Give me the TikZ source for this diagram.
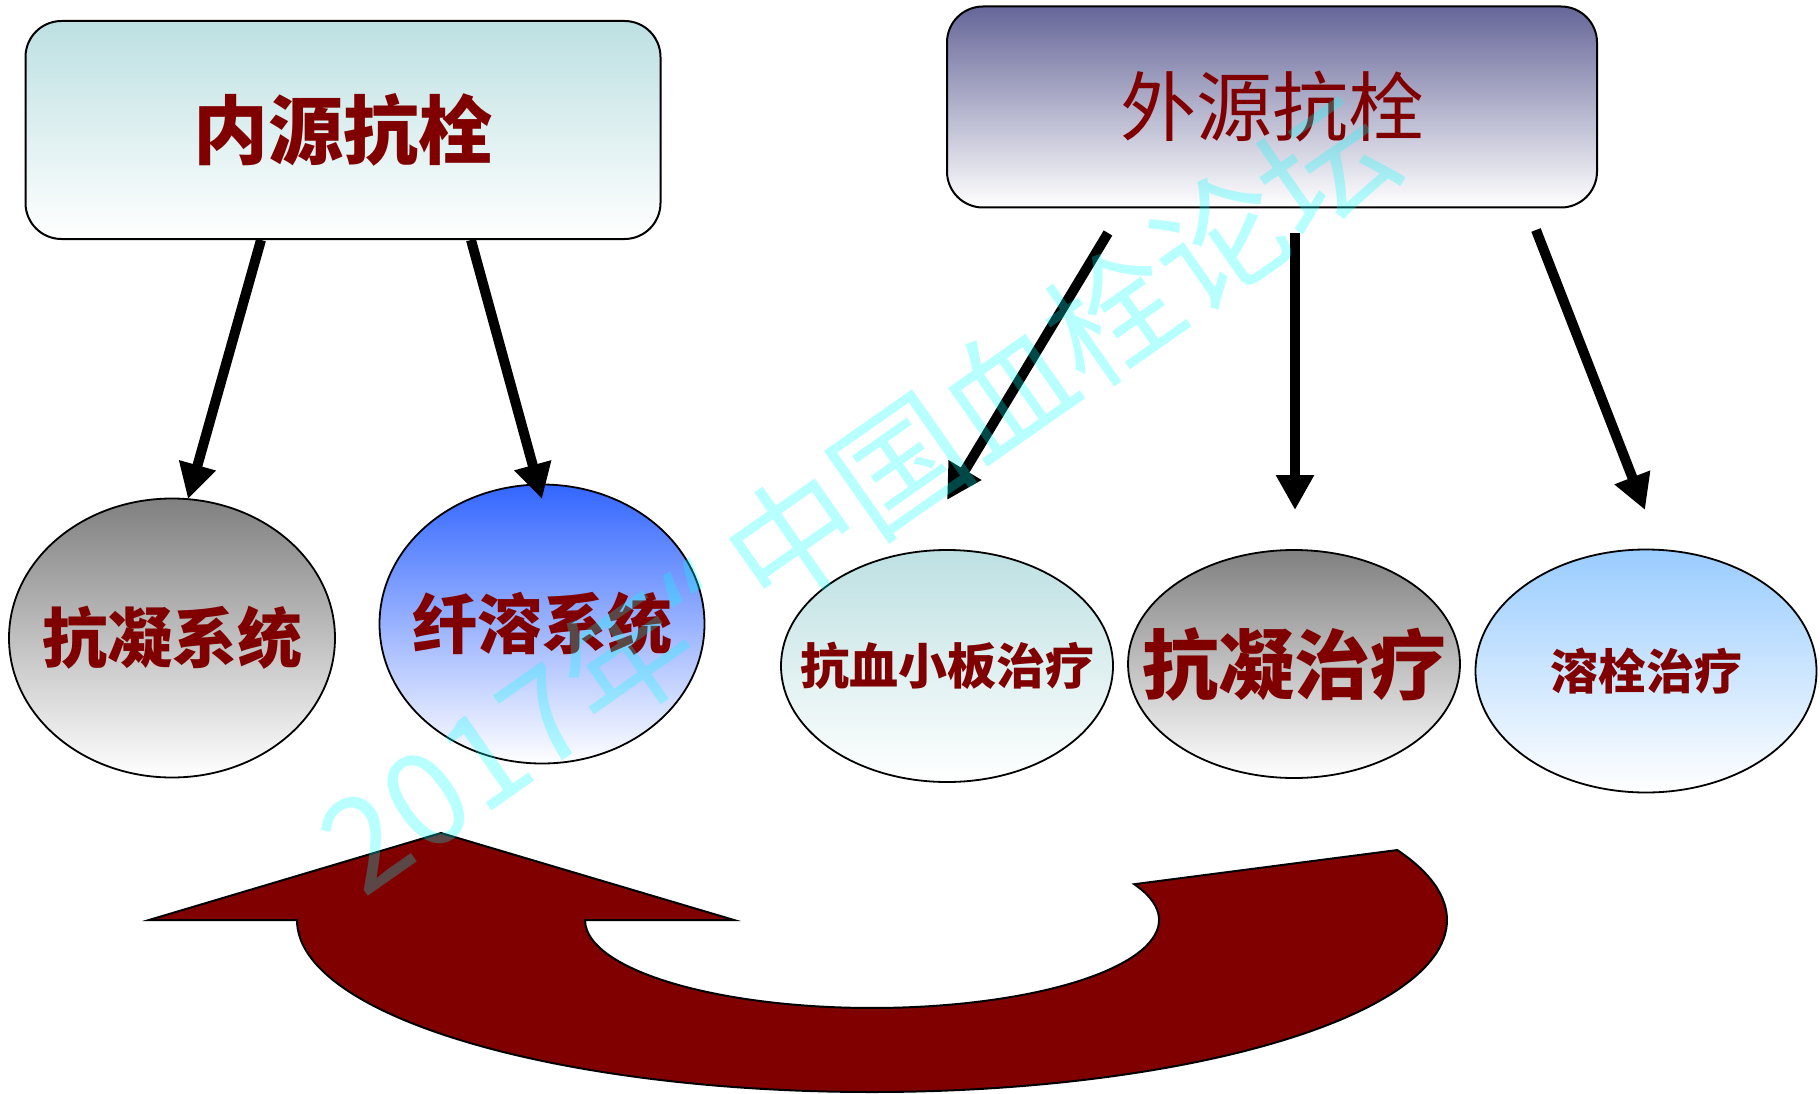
\documentclass[tikz,border=0pt]{standalone}
\usepackage{fontspec}
\newfontfamily\cjk{Noto Sans CJK SC}
\newfontfamily\latn{Noto Sans}
\usetikzlibrary{shapes.geometric,arrows.meta}
\definecolor{dred}{HTML}{800000}
\definecolor{tealtop}{HTML}{BDE0E2}
\definecolor{slatetop}{HTML}{666699}
\definecolor{graytop}{HTML}{808080}
\definecolor{bluetop}{HTML}{3366FF}
\definecolor{skytop}{HTML}{99CCFF}
\definecolor{wmcyan}{RGB}{0,255,255}
\tikzset{
  headbox/.style={draw=black, line width=2pt, rounded corners=36pt, bottom color=white, inner sep=0pt},
  oval/.style={ellipse, draw=black, line width=1.8pt, bottom color=white, inner sep=0pt},
  lbl/.style={text=dred, inner sep=0pt},
  thickarrow/.style={line width=10pt, -{Triangle[length=35pt,width=36pt]}},
  bigarrow/.style={fill=dred, draw=black, line width=2pt, line join=miter},
  watermark/.style={text=wmcyan, text opacity=0.28, inner sep=0pt, rotate=35,
    font=\cjk\fontsize{130pt}{130pt}\selectfont}
}
\begin{document}
\begin{tikzpicture}[x=1pt,y=-1pt]
\useasboundingbox (0,0) rectangle (1820,1094);

% header boxes
\node[headbox, top color=tealtop, minimum width=635pt, minimum height=218pt] (endo) at (343,130) {};
\node[lbl, font=\cjk\bfseries\fontsize{75pt}{80pt}\selectfont] (endot) at (endo) {内源抗栓};
\node[headbox, top color=slatetop, minimum width=650pt, minimum height=201pt] (exo) at (1272,107) {};
\node[lbl, font=\cjk\fontsize{76pt}{80pt}\selectfont] (exot) at (exo) {外源抗栓};

% ovals
\node[oval, top color=graytop, minimum width=326pt, minimum height=279pt] (acs) at (172,638) {};
\node[lbl, font=\cjk\bfseries\fontsize{65pt}{70pt}\selectfont] (acst) at (acs) {抗凝系统};
\node[oval, top color=bluetop, minimum width=325pt, minimum height=279pt] (fib) at (542,624) {};
\node[lbl, font=\cjk\bfseries\fontsize{65pt}{70pt}\selectfont] (fibt) at (fib) {纤溶系统};
\node[oval, top color=tealtop, minimum width=332pt, minimum height=232pt] (apt) at (947,666) {};
\node[lbl, font=\cjk\bfseries\fontsize{49pt}{54pt}\selectfont] (aptt) at (apt) {抗血小板治疗};
\node[oval, top color=graytop, minimum width=332pt, minimum height=228pt] (act) at (1294,664) {};
\node[lbl, font=\cjk\bfseries\fontsize{76pt}{80pt}\selectfont] (actt) at (act) {抗凝治疗};
\node[oval, top color=skytop, minimum width=341pt, minimum height=243pt] (thr) at (1646,671) {};
\node[lbl, font=\cjk\bfseries\fontsize{48pt}{52pt}\selectfont] (thrt) at (thr) {溶栓治疗};

% arrows
\coordinate (a1s) at (261,240); \coordinate (a1e) at (188,499);
\coordinate (a2s) at (471,240); \coordinate (a2e) at (542,499);
\coordinate (a3s) at (1108,233); \coordinate (a3e) at (947,500);
\coordinate (a4s) at (1295,233); \coordinate (a4e) at (1295,510);
\coordinate (a5s) at (1536,230); \coordinate (a5e) at (1645,510);
\draw[thickarrow] (a1s) -- (a1e);
\draw[thickarrow] (a2s) -- (a2e);
\draw[thickarrow] (a3s) -- (a3e);
\draw[thickarrow] (a4s) -- (a4e);
\draw[thickarrow] (a5s) -- (a5e);

% big curved arrow
\draw[bigarrow] (297,920) arc[start angle=180, end angle=-24, x radius=575, y radius=172]
  -- (1134.2,884.2) arc[start angle=-24, end angle=180, x radius=287, y radius=88]
  -- (734,920) -- (441,833) -- (149,920) -- cycle;

% watermark
\node[watermark] (wm) at (857,494) {2017年{\latn “}\hspace{28pt}中国血栓论坛};
\end{tikzpicture}
\end{document}
